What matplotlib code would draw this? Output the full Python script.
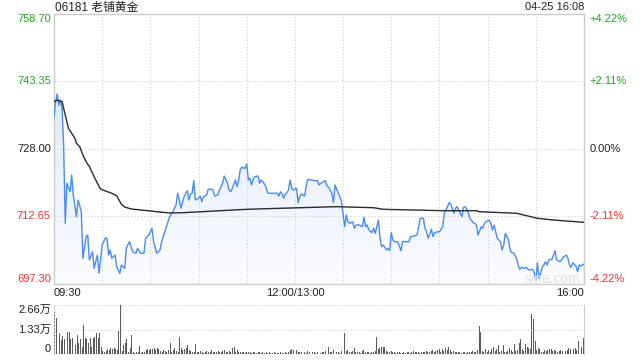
import numpy as np
import matplotlib
matplotlib.use('Agg')
import matplotlib.pyplot as plt
import matplotlib.transforms as mtransforms
from matplotlib.colors import LinearSegmentedColormap

plt.rcParams['font.family'] = ['Liberation Sans', 'Noto Sans CJK SC']

# Texts
title = '06181 老铺黄金'
stamp = '04-25 16:08'

# Axis ticks / labels
price_ticks = [697.30, 712.65, 728.00, 743.35, 758.70]
pct_labels = ['-4.22%', '-2.11%', '0.00%', '+2.11%', '+4.22%']
time_ticks = [0, 150, 330]
time_labels = ['09:30', '12:00/13:00', '16:00']
vol_ticks = [0, 13300, 26600]
vol_labels = ['0', '1.33万', '2.66万']

# Price (minutes since 09:30, lunch break removed)
price_min = [0, 1, 2, 3, 4, 5, 6, 7, 8, 10, 11, 12, 14, 15, 17, 18, 20, 21, 22, 24,
             25, 27, 28, 30, 32, 33, 34, 35, 36, 38, 39, 41, 42, 44, 45, 47, 49, 51, 52, 54,
             56, 57, 59, 61, 62, 64, 66, 67, 69, 71, 72, 74, 76, 77,
             78, 79, 81, 83, 84, 85, 86, 87, 88, 90, 91, 92, 93, 95, 96, 98, 99, 100, 102, 103,
             104, 105, 106, 108, 109, 110, 111, 113, 114, 115, 116, 117, 119, 120, 121, 122, 123, 124, 125, 127,
             128, 129, 130, 132, 133, 134, 137, 139, 140, 141, 142, 143, 144, 145, 146, 147, 148, 149, 151, 152,
             153, 154, 156, 157, 158, 160, 162,
             164, 165, 166, 169, 170, 171, 173, 174, 175, 176, 178, 179, 181, 182, 183, 184, 186, 187, 188, 190,
             192, 193, 194, 195, 196, 198, 199, 200, 202, 203, 204, 205, 207, 208, 209, 210, 211, 212, 214, 216,
             217, 219, 221, 222, 224, 226, 227, 228, 230, 231, 232, 233, 235, 236, 237, 239,
             240, 242, 243, 245, 246, 247, 249, 250, 251, 252, 254, 255, 256, 257, 258, 259, 261, 262, 263, 264,
             266, 267, 268, 269, 271, 272, 273, 274, 275, 276, 278, 279, 280, 281, 283, 284, 285, 286, 288, 289,
             290, 291, 293, 294, 295, 296, 298, 299, 300, 301, 302, 303, 304, 305, 306, 307, 308, 310, 311, 312,
             313, 315, 316, 317, 319, 320, 321, 322, 323, 325, 326, 327, 328, 330]
price_val = [735.35, 738.76, 740.51, 738.01, 739.14, 737.32, 728.91, 711.10, 720.20, 718.29,
             722.09, 717.54, 712.60, 716.40, 713.74, 703.14, 708.06, 708.44, 702.76, 704.64,
             700.87, 703.89, 699.73, 706.17, 707.83, 707.69, 703.89, 705.03, 703.14, 703.89,
             701.23, 699.73, 701.62, 700.87, 705.42, 706.92, 704.64, 704.28, 705.42, 704.28,
             704.28, 707.69, 708.44, 709.97, 706.92, 704.28, 705.03, 706.92, 709.19, 711.47,
             712.60, 713.74, 715.27, 717.93,
             716.40, 714.52, 717.15, 718.52, 716.40, 717.77, 717.93, 720.79, 716.40, 716.79,
             717.31, 716.02, 717.15, 717.54, 718.84, 718.84, 718.68, 717.31, 717.54, 718.68,
             719.43, 720.20, 721.86, 720.20, 718.68, 718.29, 719.06, 720.95, 719.43, 720.95,
             723.38, 723.84, 723.61, 724.59, 720.95, 721.34, 719.81, 721.11, 721.70, 721.86,
             720.20, 720.95, 720.56, 719.43, 718.06, 717.93, 717.93, 717.93, 717.31, 718.29,
             717.77, 716.79, 717.77, 718.06, 718.68, 720.95, 719.06, 718.68, 719.06, 715.79,
             717.15, 717.77, 717.31, 719.43, 721.11, 720.95, 720.79,
             720.79, 719.81, 720.20, 720.79, 719.59, 719.29, 717.93, 715.79, 719.81, 718.84,
             717.15, 716.02, 710.33, 712.99, 711.47, 711.10, 711.47, 709.97, 710.72, 710.72,
             710.33, 712.47, 710.33, 710.72, 709.58, 708.97, 709.97, 708.83, 711.85, 707.69,
             705.78, 706.17, 705.03, 705.42, 704.87, 708.97, 707.31, 706.92, 706.92, 704.87,
             706.92, 706.92, 706.92, 708.06, 708.22, 708.44, 710.33, 712.24, 712.24, 709.97,
             709.19, 707.69, 709.74, 708.06, 708.97, 709.19,
             709.19, 710.33, 713.38, 714.88, 715.79, 715.49, 713.38, 714.52, 714.88, 714.13,
             712.60, 714.74, 714.88, 714.29, 713.38, 712.24, 711.24, 711.10, 710.72, 708.44,
             710.33, 709.97, 711.10, 711.47, 711.85, 711.10, 709.58, 710.72, 709.19, 707.69,
             706.92, 705.03, 706.17, 708.83, 707.31, 705.03, 704.42, 704.42, 703.14, 701.62,
             700.64, 701.10, 700.87, 701.10, 700.64, 700.48, 700.64, 699.87, 698.21, 702.14,
             698.60, 699.73, 701.10, 701.62, 702.37, 701.62, 702.76, 702.92, 703.89, 704.87,
             702.76, 702.37, 702.76, 703.37, 703.89, 703.14, 701.62, 701.10, 702.14, 701.39,
             700.10, 701.62, 701.39, 701.85]

# Average price line
avg_min = [0, 2, 5, 6, 8, 9, 11, 13, 14, 16, 18, 20, 22, 24, 27, 29, 32, 36, 39, 42,
           44, 48, 56, 64, 72, 80, 120, 162, 176, 199, 205, 242, 263, 265, 288, 301, 311, 330]
avg_val = [738.76, 739.14, 738.76, 737.26, 734.21, 732.71, 731.57, 730.43, 729.30, 728.52,
           726.64, 725.11, 723.98, 722.47, 720.20, 718.90, 718.45, 717.93, 717.38, 715.42,
           714.81, 714.36, 714.06, 713.74, 713.45, 713.51, 714.29, 714.74, 714.88, 714.65,
           714.29, 713.97, 713.97, 713.74, 713.38, 712.24, 711.85, 711.33]

# Volume per minute (shares)
volume = [
    23000, 19400, 13900, 11200, 7600, 9800, 8000, 7600, 12100, 11800,
    8000, 8500, 4000, 4900, 10300, 5800, 8000, 4000, 15700, 8500,
    8000, 5800, 8500, 4000, 8500, 9400, 11200, 8500, 11600,
    4000, 1800, 1300, 1800, 2500, 2200, 3100, 2500, 3100, 2500, 2200,
    12700, 26600,
    1500, 4900, 5800, 8000, 1300, 3100, 10300,
    1300, 700, 1300, 900,
    4300,
    700, 1300, 900, 2200, 2500, 2200, 2500, 2500, 3100, 2200, 3100, 2500, 1800, 1300, 2200,
    1800, 1300, 2200,
    6200,
    1300, 2200, 3100, 1800, 1300,
    9400,
    3100, 2200, 2500, 3100, 4900, 2200, 1800, 1300, 1300,
    5400,
    1300, 900, 1800, 1300, 700, 1300, 1800, 900, 1300, 2200, 1300,
    900, 1300, 1800, 1300, 900, 1800, 2200, 1300, 900, 1800, 1300,
    3100, 3600, 1300, 2200, 900, 1300, 900, 1300, 700, 900, 1300,
    900, 700, 1300, 900, 700, 900, 1300, 700, 900, 700, 900,
    700, 900, 700, 500, 900, 700, 500, 700, 900, 700, 500,
    900, 700, 1300, 2200, 2500, 2200, 1800, 2200, 1300, 900, 1300,
    900, 1300, 700, 1800, 900, 700, 1300, 900, 700, 1300, 900,
    700, 1300, 900, 1800, 1300, 4000, 1300, 900, 2200, 1800, 900, 1300, 700, 1800, 2500,
    11200,
    1800, 2200, 1300, 1300, 1800, 3100, 1300, 900, 1300, 700, 1800, 2200, 900, 1300, 900,
    700, 1300, 900, 1800,
    9400,
    2500, 3100, 3600, 4000, 3600, 1800,
    1300, 900, 1800, 1300, 900, 700, 900, 1300, 700, 500, 900, 700, 1300, 900, 700, 1300,
    1800, 1300, 900, 1300, 700, 900, 1300, 900, 1800, 1300, 900, 1800, 2200, 1300, 1800,
    2200, 2500, 1300, 2500, 1800, 3100, 2200,
    4000,
    2200, 1300, 1800, 900, 1300, 900, 1300, 700, 1300, 900, 700, 1300, 900, 1300, 1800,
    900, 1300, 2200,
    15200, 12100,
    1800, 1300, 2500, 1300, 2200, 1300, 2500, 3600, 1800, 2500, 4900, 1300, 1800, 4900,
    1300, 900, 1800, 3100, 2200, 1300, 5400, 1800, 2200, 5800, 8000, 2500, 1800, 5400,
    3600, 3100, 2500,
    21700, 18800, 7200,
    2200, 3100, 2500, 900, 1300, 2200, 1800, 2200, 2500, 2500, 1800, 2200, 1800, 1300,
    1800, 2200, 1800, 1300, 1800, 2200, 3100, 2500,
    5400,
    2500, 3100, 2200, 7200, 4900, 4000, 8500,
]

GREEN = '#22a822'
RED = '#f03232'
GRID = '#cccccc'
label_colors = [RED, RED, '#222222', GREEN, GREEN]

W, H = 640, 360
fig = plt.figure(figsize=(6.4, 3.6), dpi=100)

# ---- price panel ----
ax = fig.add_axes([54 / W, 1 - 284 / H, 530 / W, 270 / H])
ax.set_xticks(range(0, 331, 30))
ax.set_yticks(price_ticks)
ax.grid(True, color=GRID, linestyle=(0, (1, 2)), linewidth=0.8)
ax.tick_params(length=0, labelleft=False, labelbottom=False)
for s in ax.spines.values():
    s.set_color(GRID)
    s.set_linewidth(1.0)

poly = ax.fill_between(price_min, price_val, price_ticks[0], color='none', lw=0)
cmap = LinearSegmentedColormap.from_list('fade', ['#fbfcff', '#d6e4fa'])
grad = np.linspace(0, 1, 256).reshape(-1, 1)
img = ax.imshow(grad, extent=[0, 330, price_ticks[0], price_ticks[-1]], origin='lower',
                aspect='auto', cmap=cmap, zorder=1)
img.set_clip_path(poly.get_paths()[0], transform=ax.transData)

ax.plot(price_min, price_val, color='#4a8cf0', lw=1.0, zorder=3)
ax.plot(avg_min, avg_val, color='#2a2a2a', lw=1.0, zorder=4)
ax.set_xlim(0, 330)
ax.set_ylim(price_ticks[0], price_ticks[-1])

trans = mtransforms.blended_transform_factory(ax.transAxes, ax.transData)
for i, (v, p, c) in enumerate(zip(price_ticks, pct_labels, label_colors)):
    va = 'bottom' if i == 0 else ('top' if i == len(price_ticks) - 1 else 'center')
    ax.text(-0.006, v, f'{v:.2f}', transform=trans, ha='right', va=va, color=c, fontsize=8)
    ax.text(1.011, v, p, transform=trans, ha='left', va=va, color=c, fontsize=8)

tt = mtransforms.blended_transform_factory(ax.transData, ax.transAxes)
for t, lab, ha in zip(time_ticks, time_labels, ['left', 'center', 'right']):
    ax.text(t, -0.033, lab, transform=tt, ha=ha, va='center', fontsize=8, color='#222222')

fig.text(55 / W, 1 - 7.5 / H, title, ha='left', va='center', fontsize=8.5, color='#222222')
fig.text(584 / W, 1 - 7.5 / H, stamp, ha='right', va='center', fontsize=8, color='#222222')
fig.text(552 / W, 1 - 279 / H, 'sina.com', ha='center', va='center', fontsize=10, color='#e2e2e2')

# ---- volume panel ----
vax = fig.add_axes([54 / W, 1 - 354 / H, 530 / W, 49 / H])
vax.bar(np.arange(len(volume)), volume, width=0.6, color='#5a5a5a', lw=0)
vax.set_xlim(-0.5, 330.5)
vax.set_ylim(0, vol_ticks[-1])
vax.set_xticks([])
vax.set_yticks([])
for v in vol_ticks[1:]:
    vax.axhline(v, color=GRID, linestyle=(0, (1, 2)), lw=0.8, clip_on=False)
vax.spines['top'].set_visible(False)
vax.spines['bottom'].set_visible(False)
vax.spines['left'].set_color(GRID)
vax.spines['left'].set_linestyle((0, (1, 2)))
vax.spines['right'].set_color(GRID)
vtrans = mtransforms.blended_transform_factory(vax.transAxes, vax.transData)
for i, (v, lab) in enumerate(zip(vol_ticks, vol_labels)):
    va = 'bottom' if i == 0 else ('top' if i == len(vol_ticks) - 1 else 'center')
    vax.text(-0.006, v, lab, transform=vtrans, ha='right', va=va, fontsize=8, color='#222222')

fig.savefig('out.png', dpi=100)
